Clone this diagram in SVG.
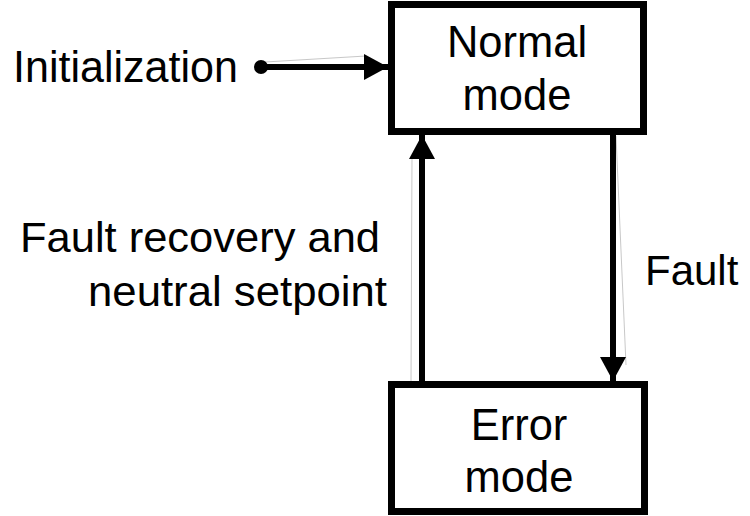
<svg xmlns="http://www.w3.org/2000/svg" width="750" height="516" viewBox="0 0 750 516">
<style>
.box{fill:#fff;stroke:#000;stroke-width:7}
.t{font-family:"Liberation Sans",Arial,sans-serif;fill:#000}
.lbl{font-size:42px}
.nm{font-size:43.5px}
.edge{stroke:#000;stroke-width:6;fill:none}
.faint{stroke:#c8c8c8;stroke-width:1;fill:none}
</style>
<defs>
<marker id="ah" markerUnits="userSpaceOnUse" markerWidth="24" markerHeight="26" refX="24" refY="13" orient="auto" viewBox="0 0 24 26">
<path d="M0,0 L24,13 L0,26 z" fill="#000"/>
</marker>
</defs>
<rect width="750" height="516" fill="#fff"/>
<g id="connectors">
<line class="faint" x1="265" y1="62" x2="366" y2="56"/>
<line class="faint" x1="412" y1="158" x2="411" y2="381"/>
<line class="faint" x1="616" y1="136" x2="626" y2="365"/>
<circle cx="261" cy="67" r="7" fill="#000"/>
<line class="edge" x1="261" y1="67" x2="388" y2="67" marker-end="url(#ah)"/>
<line class="edge" x1="422" y1="381" x2="422" y2="135" marker-end="url(#ah)"/>
<line class="edge" x1="613" y1="135" x2="613" y2="381" marker-end="url(#ah)"/>
</g>
<g id="normal">
<rect class="box" x="391.5" y="4.5" width="252" height="127"/>
<text class="t nm" x="517" y="57" text-anchor="middle">Normal</text>
<text class="t nm" x="517" y="110" text-anchor="middle">mode</text>
</g>
<g id="error">
<rect class="box" x="391.5" y="384.5" width="253" height="127"/>
<text class="t nm" x="519" y="440" text-anchor="middle">Error</text>
<text class="t nm" x="519" y="492" text-anchor="middle">mode</text>
</g>
<g id="labels">
<text class="t" font-size="44" x="13" y="82" textLength="225" lengthAdjust="spacingAndGlyphs">Initialization</text>
<text class="t lbl" x="20" y="252" textLength="360" lengthAdjust="spacingAndGlyphs">Fault recovery and</text>
<text class="t lbl" x="88" y="306" textLength="299" lengthAdjust="spacingAndGlyphs">neutral setpoint</text>
<text class="t lbl" x="645" y="285">Fault</text>
</g>
</svg>
